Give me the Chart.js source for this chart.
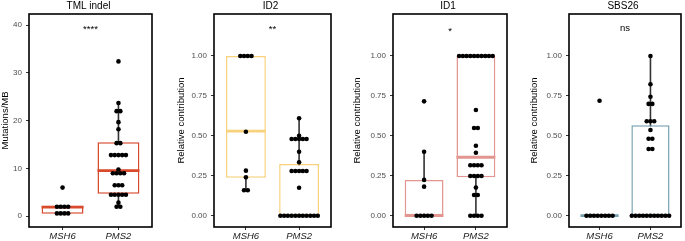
<!DOCTYPE html>
<html>
<head>
<meta charset="utf-8">
<script src="https://cdn.jsdelivr.net/npm/chart.js@4.4.1/dist/chart.umd.min.js"></script>
<style>
  body { margin: 0; background: #fff; width: 685px; height: 241px; position: relative; overflow: hidden; }
  canvas { position: absolute; top: 0; }
</style>
</head>
<body>
<canvas id="c1"></canvas>
<canvas id="c2"></canvas>
<canvas id="c3"></canvas>
<canvas id="c4"></canvas>
<script>
// categories
const groups = ["MSH6", "PMS2"];
const titles = ["TML indel", "ID2", "ID1", "SBS26"];
const yTitles = ["Mutations/MB", "Relative contribution", "Relative contribution", "Relative contribution"];
const signif = ["****", "**", "*", "ns"];
const signifY = [39.0, 1.165, 1.155, 1.17];

// tick labels
const tmlTicks = [0, 10, 20, 30, 40];
const tmlTickLabels = ["0", "10", "20", "30", "40"];
const relTicks = [0, 0.25, 0.5, 0.75, 1];
const relTickLabels = ["0.00", "0.25", "0.50", "0.75", "1.00"];

// sample values (one dot per sample)
const tmlMSH6 = [6.0, 2.0, 2.0, 2.0, 2.0, 0.6, 0.6, 0.6, 0.6];
const tmlPMS2 = [32.4, 23.7, 22.0, 22.0, 19.7, 18.2, 15.3, 15.3, 12.8, 12.8, 12.8, 12.8, 12.8,
  9.8, 9.0, 9.0, 9.0, 9.0, 6.5, 6.5, 6.5, 4.5, 4.5, 4.5, 4.5, 4.5, 2.85, 2.0, 2.0];
const id2MSH6 = [1, 1, 1, 1, 0.526, 0.282, 0.24, 0.159, 0.159];
const id2PMS2 = [0.61, 0.5, 0.48, 0.48, 0.48, 0.48, 0.48, 0.4, 0.334, 0.28, 0.28, 0.28, 0.28, 0.28,
  0.175, 0, 0, 0, 0, 0, 0, 0, 0, 0, 0, 0];
const id1MSH6 = [0.716, 0.4, 0.224, 0.182, 0, 0, 0, 0, 0];
const id1PMS2 = [1, 1, 1, 1, 1, 1, 1, 1, 1, 1, 0.662, 0.549, 0.549, 0.438, 0.394,
  0.316, 0.316, 0.316, 0.316, 0.249, 0.249, 0.249, 0.249, 0.176, 0.13, 0.13, 0, 0, 0, 0];
const sbsMSH6 = [0.72, 0, 0, 0, 0, 0, 0, 0, 0];
const sbsPMS2 = [1, 0.823, 0.745, 0.7, 0.7, 0.591, 0.591, 0.591, 0.537, 0.482, 0.482, 0.418, 0.418,
  0, 0, 0, 0, 0, 0, 0, 0, 0, 0, 0];

// box stats: [whisker low, q1, median, q3, whisker high] for MSH6, PMS2
const tmlBox = [[0.55, 0.55, 1.9, 2.2, 2.2], [2.0, 4.7, 9.55, 15.5, 23.7]];
const id2Box = [[0.159, 0.238, 0.53, 1.0, 1.0], [0, 0, 0, 0.324, 0.61]];
const id1Box = [[0, 0, 0, 0.224, 0.4], [0, 0.24, 0.366, 1.0, 1.0]];
const sbsBox = [[0, 0, 0, 0, 0], [0, 0, 0, 0.566, 1.0]];

const boxColors = ["#D84A2B", "#F8D27C", "#E2968F", "#77A0B0"];

const panels = [
  { id: "c1", left: 0,   axisW: 29, width: 156, yMin: -2.24, yMax: 42.32, ticks: tmlTicks, labels: tmlTickLabels, pts: [tmlMSH6, tmlPMS2], box: tmlBox },
  { id: "c2", left: 176, axisW: 38, width: 159, yMin: -0.0708, yMax: 1.263, ticks: relTicks, labels: relTickLabels, pts: [id2MSH6, id2PMS2], box: id2Box },
  { id: "c3", left: 352, axisW: 41, width: 159, yMin: -0.0708, yMax: 1.263, ticks: relTicks, labels: relTickLabels, pts: [id1MSH6, id1PMS2], box: id1Box },
  { id: "c4", left: 529, axisW: 40, width: 156, yMin: -0.0708, yMax: 1.263, ticks: relTicks, labels: relTickLabels, pts: [sbsMSH6, sbsPMS2], box: sbsBox }
];

Chart.defaults.font.family = "'Liberation Sans', Arial, sans-serif";

// stack equal values side by side around the group centre
function dots(vals, centre, step) {
  const counts = {};
  vals.forEach(v => counts[v] = (counts[v] || 0) + 1);
  const seen = {};
  return vals.map(v => {
    const k = seen[v] = (seen[v] || 0) + 1;
    return { x: centre + (k - 1 - (counts[v] - 1) / 2) * step, y: v };
  });
}

const framePlugin = {
  id: "frame",
  afterDraw(chart) {
    const { ctx, chartArea: a } = chart;
    ctx.save();
    ctx.strokeStyle = "#000";
    ctx.lineWidth = 1.6;
    ctx.strokeRect(a.left, a.top, a.right - a.left, a.bottom - a.top);
    ctx.restore();
  }
};

const textPlugin = {
  id: "panelText",
  afterDraw(chart, args, opts) {
    const { ctx, chartArea: a, scales } = chart;
    ctx.save();
    ctx.fillStyle = "#000";
    ctx.textAlign = "center";
    ctx.textBaseline = "middle";
    ctx.font = "10px 'Liberation Sans', Arial, sans-serif";
    ctx.fillText(opts.title, (a.left + a.right) / 2 - 2, 6);
    ctx.font = "9.5px 'Liberation Sans', Arial, sans-serif";
    ctx.fillText(opts.signif, scales.x.getPixelForValue(1.5), scales.y.getPixelForValue(opts.signifY));
    ctx.restore();
  }
};

panels.forEach((p, i) => {
  const canvas = document.getElementById(p.id);
  canvas.width = p.width;
  canvas.height = 241;
  canvas.style.left = p.left + "px";

  const frameW = p.width - p.axisW - 2;
  const step = 3.8 / (frameW / 2.2);
  const col = boxColors[i];
  const b = p.box;

  new Chart(canvas, {
    type: "bar",
    data: {
      datasets: [
        {
          type: "line",
          data: [{ x: 1, y: b[0][0] }, { x: 1, y: b[0][4] }, { x: 1.5, y: null }, { x: 2, y: b[1][0] }, { x: 2, y: b[1][4] }],
          borderColor: "#333",
          borderWidth: 1.6,
          pointRadius: 0,
          order: 3
        },
        {
          type: "bar",
          data: [{ x: 1, y: [b[0][1], b[0][3]] }, { x: 2, y: [b[1][1], b[1][3]] }],
          backgroundColor: "#fff",
          borderColor: col,
          borderWidth: 1.5,
          borderSkipped: false,
          barPercentage: 0.75,
          categoryPercentage: 1,
          grouped: false,
          order: 2
        },
        {
          type: "line",
          data: [{ x: 0.625, y: b[0][2] }, { x: 1.375, y: b[0][2] }, { x: 1.5, y: null },
                 { x: 1.625, y: b[1][2] }, { x: 2.375, y: b[1][2] }],
          borderColor: col,
          borderWidth: 2.8,
          pointRadius: 0,
          order: 1
        },
        {
          type: "scatter",
          data: dots(p.pts[0], 1, step).concat(dots(p.pts[1], 2, step)),
          backgroundColor: "#000",
          borderWidth: 0,
          pointRadius: 2.3,
          order: 0
        }
      ]
    },
    options: {
      responsive: false,
      animation: false,
      events: [],
      layout: { padding: { top: 14, right: 2, bottom: 0, left: 0 } },
      plugins: {
        legend: { display: false },
        tooltip: { enabled: false },
        panelText: { title: titles[i], signif: signif[i], signifY: signifY[i] }
      },
      scales: {
        x: {
          type: "linear",
          min: 0.4,
          max: 2.6,
          offset: false,
          afterFit: s => { s.height = 14; },
          afterBuildTicks: s => { s.ticks = [1, 2].map(v => ({ value: v })); },
          ticks: {
            callback: (v, k) => groups[k],
            color: "#1a1a1a",
            font: { size: 9.5, style: "italic" },
            padding: 1,
            maxRotation: 0,
            autoSkip: false
          },
          grid: { offset: false, drawOnChartArea: false, tickLength: 3, color: "#333" },
          border: { display: false }
        },
        y: {
          min: p.yMin,
          max: p.yMax,
          afterFit: s => { s.width = p.axisW; },
          afterBuildTicks: s => { s.ticks = p.ticks.map(v => ({ value: v })); },
          ticks: {
            callback: (v, k) => p.labels[k],
            color: "#4d4d4d",
            font: { size: 8 },
            padding: 4,
            autoSkip: false
          },
          grid: { drawOnChartArea: false, tickLength: 3, color: "#333" },
          border: { display: false },
          title: { display: true, text: yTitles[i], color: "#000", font: { size: 9.5 }, padding: 0 }
        }
      }
    },
    plugins: [framePlugin, textPlugin]
  });
});
</script>
</body>
</html>
